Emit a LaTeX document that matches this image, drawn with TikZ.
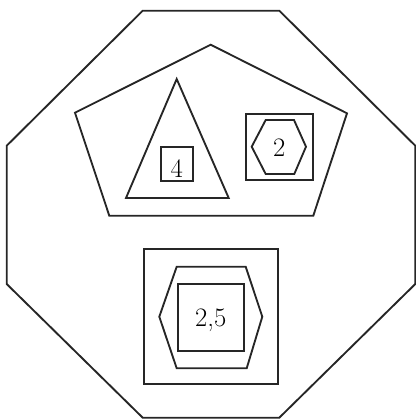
\documentclass[tikz,border=0pt]{standalone}
\usepackage{tikz}

\begin{document}
\begin{tikzpicture}[
    x=0.75pt, y=-0.75pt,
    outline/.style={draw=black!85, line width=1.4pt, line join=miter},
    digit/.style={font=\fontsize{20}{24}\selectfont, inner sep=0pt}
]

\useasboundingbox (0,0) rectangle (416,419);

% octagon
\draw[outline] (142.7,10.7) -- (279.3,10.7) -- (415.3,145.7) -- (415.3,284)
    -- (279.3,417.7) -- (142.7,417.7) -- (6.7,284) -- (6.7,145.7) -- cycle;

% pentagon
\draw[outline] (210.7,44.7) -- (347,113.3) -- (313.3,215.7)
    -- (109.3,215.7) -- (75,112.7) -- cycle;

% triangle with square
\draw[outline] (176.7,79) -- (228.7,198) -- (126,198) -- cycle;
\draw[outline] (161,147.3) rectangle (193.3,180.7);
\node[digit] (four) at (176.7,168.5) {4};

% square with hexagon
\draw[outline] (245.7,114) rectangle (312.7,180.3);
\draw[outline] (251.7,146.7) -- (265.7,120) -- (294,120) -- (306,146.7)
    -- (294.3,174) -- (265.7,174) -- cycle;
\node[digit] (two) at (279.3,147.5) {2};

% square, hexagon, square
\draw[outline] (144,249.3) rectangle (278.3,384.3);
\draw[outline] (159.3,316.7) -- (176.7,266.7) -- (245.7,266.7) -- (262.3,316.7)
    -- (246.7,368.3) -- (176.7,368.3) -- cycle;
\draw[outline] (178.3,284.3) rectangle (244.3,350.7);
\node[digit] (twofive) at (210.7,320.7) {2,5};

\end{tikzpicture}
\end{document}
